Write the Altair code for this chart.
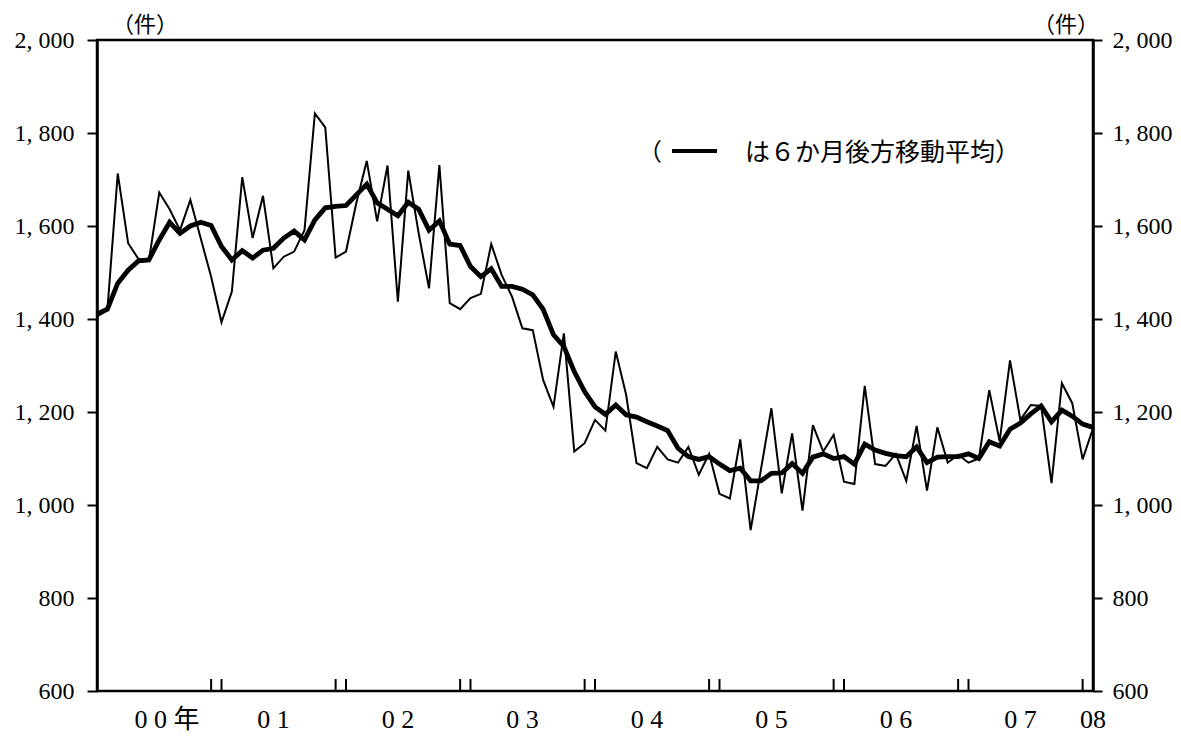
import altair as alt
import pandas as pd

# ---- data ----
months = list(range(97))  # Jan 2000 .. Jan 2008
raw = [1405, 1419, 1713, 1563, 1529, 1525, 1672, 1636, 1591, 1656, 1573, 1491,
       1393, 1459, 1705, 1574, 1665, 1509, 1534, 1545, 1591, 1842, 1812, 1532,
       1545, 1650, 1740, 1610, 1730, 1437, 1719, 1585, 1466, 1731, 1434, 1421,
       1445, 1454, 1561, 1495, 1448, 1380, 1376, 1269, 1211, 1369, 1115, 1133,
       1183, 1160, 1330, 1237, 1090, 1079, 1125, 1098, 1091, 1125, 1065, 1110,
       1024, 1014, 1141, 946, 1077, 1208, 1025, 1154, 988, 1172, 1115, 1151,
       1050, 1045, 1256, 1088, 1084, 1110, 1052, 1170, 1031, 1167, 1091, 1108,
       1091, 1100, 1247, 1137, 1311, 1183, 1215, 1213, 1047, 1262, 1219, 1098,
       1165]
ma = [1411, 1421, 1477, 1505, 1525, 1527, 1570, 1608, 1584, 1600, 1608, 1601,
      1556, 1527, 1547, 1531, 1548, 1552, 1574, 1589, 1570, 1613, 1639, 1642,
      1644, 1667, 1690, 1650, 1636, 1622, 1651, 1636, 1591, 1611, 1561, 1558,
      1513, 1491, 1508, 1470, 1470, 1464, 1452, 1421, 1366, 1341, 1287, 1244,
      1211, 1195, 1215, 1194, 1189, 1179, 1170, 1160, 1122, 1104, 1098, 1104,
      1088, 1074, 1079, 1052, 1052, 1068, 1069, 1089, 1068, 1103, 1110, 1100,
      1104, 1088, 1131, 1118, 1111, 1106, 1104, 1125, 1091, 1103, 1104, 1104,
      1110, 1100, 1136, 1127, 1163, 1176, 1196, 1213, 1179, 1204, 1191, 1174,
      1167]
year_pos = [6.75, 17, 29, 41, 53, 65, 77, 89, 96]
year_labels = ["0 0 年", "0 1", "0 2", "0 3", "0 4", "0 5", "0 6", "0 7", "08"]
boundary_ticks = [11, 12, 23, 24, 35, 36, 47, 48, 59, 60, 71, 72, 83, 84, 95, 96]
y_ticks = [600, 800, 1000, 1200, 1400, 1600, 1800, 2000]
unit_label = "（件）"
legend_text = "は６か月後方移動平均）"

W, H = 996, 651
FONT_NUM = "Liberation Serif, DejaVu Serif, serif"
FONT_JP = "Liberation Serif, Noto Sans CJK JP, serif"

df = pd.DataFrame({"m": months, "raw": raw, "ma": ma})
df_years = pd.DataFrame({"pos": year_pos, "label": year_labels})
df_bt = pd.DataFrame({"m": boundary_ticks})

xscale = alt.Scale(domain=[0, 96], nice=False, zero=False)
yscale = alt.Scale(domain=[600, 2000], nice=False, zero=False)

label_expr = "replace(format(datum.value, ','), ',', ', ')"

xaxis = alt.Axis(values=months, tickSize=7, tickWidth=2, tickColor="black",
                 domainColor="black", domainWidth=2.5, labels=False,
                 title=None, grid=False)
left_axis = alt.Axis(orient="left", values=y_ticks, tickSize=10, tickWidth=2,
                     tickColor="black", domainColor="black", domainWidth=2.5,
                     labelPadding=13, labelFont=FONT_NUM, labelFontSize=24,
                     labelColor="black", labelExpr=label_expr, labelOverlap=False,
                     labelFlush=False, title=None, grid=False)
right_axis = alt.Axis(orient="right", values=y_ticks, tickSize=9, tickWidth=2,
                      tickColor="black", domainColor="black", domainWidth=2.5,
                      labelPadding=10, labelFont=FONT_NUM, labelFontSize=24,
                      labelColor="black", labelExpr=label_expr, labelOverlap=False,
                      labelFlush=False, title=None, grid=False)

base = alt.Chart(df)

thin = base.mark_line(color="black", strokeWidth=2).encode(
    x=alt.X("m:Q", scale=xscale, axis=xaxis),
    y=alt.Y("raw:Q", scale=yscale, axis=left_axis),
)
thick = base.mark_line(color="black", strokeWidth=4.8).encode(
    x=alt.X("m:Q", scale=xscale, axis=None),
    y=alt.Y("ma:Q", scale=yscale, axis=right_axis),
)

year_ticks = alt.Chart(df_bt).mark_rule(color="black", strokeWidth=2).encode(
    x=alt.X("m:Q", scale=xscale, axis=None),
    y=alt.value(H),
    y2=alt.value(H - 12),
)

year_text = alt.Chart(df_years).mark_text(
    font=FONT_JP, fontSize=26, baseline="middle", align="center", color="black"
).encode(
    x=alt.X("pos:Q", scale=xscale, axis=None),
    y=alt.value(H + 29),
    text="label:N",
)

unit_left = alt.Chart(pd.DataFrame({"t": [unit_label]})).mark_text(
    font=FONT_JP, fontSize=22, baseline="middle", align="center", color="black"
).encode(x=alt.value(48), y=alt.value(-15), text="t:N")
unit_right = alt.Chart(pd.DataFrame({"t": [unit_label]})).mark_text(
    font=FONT_JP, fontSize=22, baseline="middle", align="center", color="black"
).encode(x=alt.value(969), y=alt.value(-15), text="t:N")

leg_paren = alt.Chart(pd.DataFrame({"t": ["（"]})).mark_text(
    font=FONT_JP, fontSize=24, baseline="middle", align="left", color="black"
).encode(x=alt.value(541), y=alt.value(113), text="t:N")
leg_line = alt.Chart(pd.DataFrame({"t": ["ma"]})).mark_rule(
    color="black", strokeWidth=4
).encode(x=alt.value(575), x2=alt.value(620), y=alt.value(111))
leg_text = alt.Chart(pd.DataFrame({"t": [legend_text]})).mark_text(
    font=FONT_JP, fontSize=25, baseline="middle", align="left", color="black"
).encode(x=alt.value(648), y=alt.value(113), text="t:N")

chart = alt.layer(
    thin, thick, year_ticks, year_text, unit_left, unit_right,
    leg_paren, leg_line, leg_text
).resolve_axis(y="independent").properties(
    width=W, height=H,
    autosize=alt.AutoSizeParams(type="none"),
    padding={"left": 89, "top": 32, "right": 80, "bottom": 44},
    background="white",
).configure_view(stroke="black", strokeWidth=2.5)

chart.save("out.html", embed_options={"renderer": "svg", "actions": False})
